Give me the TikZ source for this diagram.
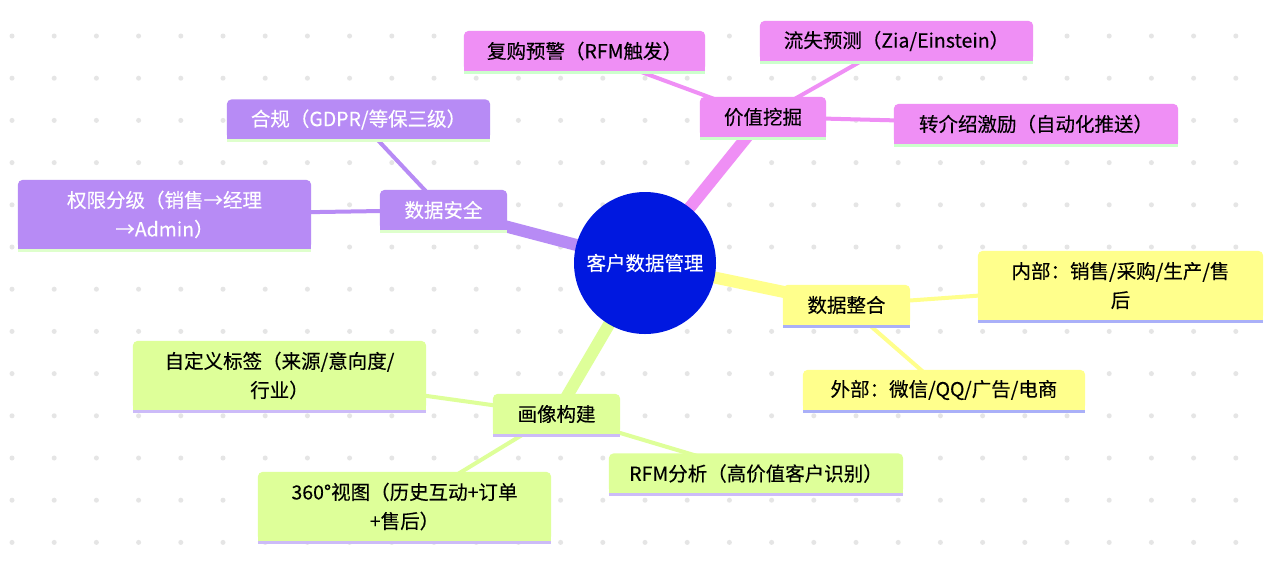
\documentclass[tikz,border=0pt]{standalone}
\usepackage{fontspec}
\setmainfont{Noto Sans CJK SC}[FakeBold=0.25]
\newfontfamily\mmfont{Noto Sans CJK SC}[FakeBold=0.25]
\usetikzlibrary{calc}
\pgfdeclarelayer{bg}
\pgfdeclarelayer{boxes}
\pgfsetlayers{bg,boxes,main}
\definecolor{cpurple}{RGB}{183,139,245}
\definecolor{cpink}{RGB}{239,143,245}
\definecolor{cyellow}{RGB}{255,255,140}
\definecolor{clime}{RGB}{222,255,153}
\definecolor{croot}{RGB}{0,24,224}
\definecolor{sgreenA}{RGB}{222,255,204}
\definecolor{sgreenB}{RGB}{204,255,204}
\definecolor{sblue}{RGB}{170,176,248}
\definecolor{slav}{RGB}{204,187,248}
\definecolor{dotc}{RGB}{229,229,229}
\newcommand\mmbox[3]{%
\begin{pgfonlayer}{boxes}
\fill[#2,rounded corners=5pt] (#1.south west) rectangle (#1.north east);
\fill[#2] (#1.south west) rectangle ([yshift=6pt]#1.south east);
\fill[#3] ([yshift=0.5pt]#1.south west) rectangle ([yshift=-2.5pt]#1.south east);
\end{pgfonlayer}}
\tikzset{
  mm/.style 2 args={inner sep=0pt, align=center, minimum width=#1, minimum height=#2,
    font=\mmfont\fontsize{19.5}{29}\selectfont},
  edgeA/.style={line width=12pt},
  edgeB/.style={line width=4pt}
}
\begin{document}
\begin{tikzpicture}[x=1pt,y=-1pt]
\useasboundingbox (0,0) rectangle (1280,566);
\begin{pgfonlayer}{bg}
\fill[white] (0,0) rectangle (1280,566);
\foreach \i in {0,...,29}{\foreach \j in {0,...,12}{\fill[dotc] ({12+42.2*\i},{36+42.2*\j}) circle (2.5pt);}}
\end{pgfonlayer}

% root
\node[circle, fill=croot, minimum size=142pt, inner sep=0pt, text=white, font=\mmfont\fontsize{19.5}{24}\selectfont] (root) at (645,263) {客户数据管理};

% purple branch
\node[mm={127pt}{40pt}, text=white] (sec) at (443.5,210) {数据安全};
\node[mm={263pt}{40pt}, text=white] (sec1) at (358.5,119.5) {合规（GDPR/等保三级）};
\node[mm={293pt}{69pt}, text=white] (sec2) at (164.5,214.5) {权限分级（销售→经理\\→Admin）};

% pink branch
\node[mm={126pt}{40pt}] (val) at (763,117) {价值挖掘};
\node[mm={241pt}{40pt}] (val1) at (584.5,51) {复购预警（RFM触发）};
\node[mm={273pt}{40pt}] (val2) at (896.5,41) {流失预测（Zia/Einstein）};
\node[mm={284pt}{40pt}] (val3) at (1036,124) {转介绍激励（自动化推送）};

% yellow branch
\node[mm={127pt}{40pt}] (int) at (846.5,305) {数据整合};
\node[mm={285pt}{69pt}] (int1) at (1120.5,285.5) {内部：销售/采购/生产/售\\后};
\node[mm={282pt}{40pt}] (int2) at (944,390) {外部：微信/QQ/广告/电商};

% lime branch
\node[mm={127pt}{40pt}] (por) at (556.5,414) {画像构建};
\node[mm={293pt}{69pt}] (por1) at (279.5,375.5) {自定义标签（来源/意向度/\\行业）};
\node[mm={293pt}{69pt}] (por2) at (404.5,506.5) {360°视图（历史互动+订单\\+售后）};
\node[mm={294pt}{40pt}] (por3) at (756,473.5) {RFM分析（高价值客户识别）};

\mmbox{sec}{cpurple}{sgreenA}
\mmbox{sec1}{cpurple}{sgreenA}
\mmbox{sec2}{cpurple}{sgreenA}
\mmbox{val}{cpink}{sgreenB}
\mmbox{val1}{cpink}{sgreenB}
\mmbox{val2}{cpink}{sgreenB}
\mmbox{val3}{cpink}{sgreenB}
\mmbox{int}{cyellow}{sblue}
\mmbox{int1}{cyellow}{sblue}
\mmbox{int2}{cyellow}{sblue}
\mmbox{por}{clime}{slav}
\mmbox{por1}{clime}{slav}
\mmbox{por2}{clime}{slav}
\mmbox{por3}{clime}{slav}

\begin{pgfonlayer}{bg}
\draw[edgeA, cpurple] (root.center) -- (sec.center);
\draw[edgeA, cpink] (root.center) -- (val.center);
\draw[edgeA, cyellow] (root.center) -- (int.center);
\draw[edgeA, clime] (root.center) -- (por.center);
\draw[edgeB, cpurple] (sec.center) -- (sec1.center);
\draw[edgeB, cpurple] (sec.center) -- (sec2.center);
\draw[edgeB, cpink] (val.center) -- (val1.center);
\draw[edgeB, cpink] (val.center) -- (val2.center);
\draw[edgeB, cpink] (val.center) -- (val3.center);
\draw[edgeB, cyellow] (int.center) -- (int1.center);
\draw[edgeB, cyellow] (int.center) -- (int2.center);
\draw[edgeB, clime] (por.center) -- (por1.center);
\draw[edgeB, clime] (por.center) -- (por2.center);
\draw[edgeB, clime] (por.center) -- (por3.center);
\end{pgfonlayer}
\end{tikzpicture}
\end{document}
